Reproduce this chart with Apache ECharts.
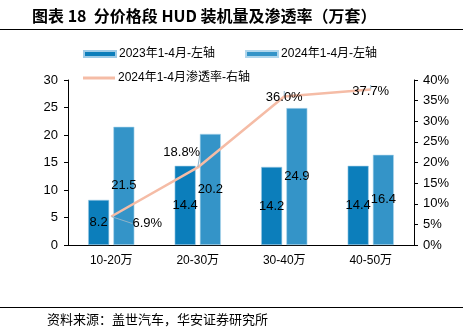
<!DOCTYPE html>
<html><head><meta charset="utf-8">
<script src="https://cdn.jsdelivr.net/npm/echarts@6/dist/echarts.min.js"></script>
<style>html,body{margin:0;padding:0;background:#fff}#c{width:473px;height:328px}</style>
</head><body><div id="c"></div>
<script>
const categories = ['10-20万', '20-30万', '30-40万', '40-50万'];
const vol2023 = [8.2, 14.4, 14.2, 14.4];
const vol2024 = [21.5, 20.2, 24.9, 16.4];
const rate2024 = [6.9, 18.8, 36.0, 37.7];
const leftTicks = [0, 30, 5];
const rightTicks = [0, 40, 5];
const names = ['2023年1-4月-左轴', '2024年1-4月-左轴', '2024年1-4月渗透率-右轴'];
const titleText = '图表 18  分价格段 HUD 装机量及渗透率（万套）';
const sourceText = '资料来源：盖世汽车，华安证券研究所';

const FONT = '"Liberation Sans", "Noto Sans CJK SC", sans-serif';
const chart = echarts.init(document.getElementById('c'), null, {renderer: 'canvas'});
const labelOffsets = [[36, 7], [-16, -15], [0, 1], [0, 2]];
chart.setOption({
  animation: false,
  textStyle: {fontFamily: FONT},
  graphic: [
    {type: 'text', left: 32, top: 8, style: {text: titleText, font: 'bold 16px "Noto Sans CJK SC", sans-serif', fill: '#000'}},
    {type: 'line', shape: {x1: 0, y1: 29.5, x2: 463, y2: 29.5}, style: {stroke: '#000', lineWidth: 1}},
    {type: 'line', shape: {x1: 0, y1: 307.5, x2: 463, y2: 307.5}, style: {stroke: '#000', lineWidth: 1}},
    {type: 'text', left: 47, top: 313, style: {text: sourceText, font: '13px "Noto Sans CJK SC", sans-serif', fill: '#000'}}
  ],
  legend: [
    {data: [names[0], names[1]], left: 78, top: 43, itemWidth: 32, itemHeight: 6, itemGap: 30, icon: 'rect',
     textStyle: {fontSize: 12, color: '#000', fontFamily: FONT, padding: [0,0,0,-2]}},
    {data: [names[2]], left: 78, top: 67, itemWidth: 32, itemHeight: 3, icon: 'rect',
     textStyle: {fontSize: 12, color: '#000', fontFamily: FONT, padding: [0,0,0,-2]}}
  ],
  grid: {left: 68, right: 59, top: 80, bottom: 83},
  xAxis: {
    type: 'category', data: categories,
    axisLine: {lineStyle: {color: '#000'}},
    axisTick: {inside: true, length: 4, lineStyle: {color: '#000'}},
    axisLabel: {fontSize: 12, color: '#000', margin: 10, fontFamily: FONT}
  },
  yAxis: [
    {type: 'value', min: leftTicks[0], max: leftTicks[1], interval: leftTicks[2],
     splitLine: {show: false},
     axisLine: {show: true, lineStyle: {color: '#000'}},
     axisTick: {show: true, length: 4, lineStyle: {color: '#000'}},
     axisLabel: {fontSize: 13, color: '#000', margin: 10, fontFamily: FONT}},
    {type: 'value', min: rightTicks[0], max: rightTicks[1], interval: rightTicks[2],
     splitLine: {show: false},
     axisLine: {show: true, lineStyle: {color: '#000'}},
     axisTick: {show: true, length: 4, lineStyle: {color: '#000'}},
     axisLabel: {fontSize: 13, color: '#000', margin: 9, formatter: '{value}%', fontFamily: FONT}}
  ],
  series: [
    {name: names[0], type: 'bar', data: vol2023, barWidth: 21, barGap: '20%',
     itemStyle: {color: '#0C7EBB', borderColor: '#9fcbe6', borderWidth: 0.6},
     label: {show: true, position: 'inside', color: '#000', fontSize: 13, fontFamily: FONT}},
    {name: names[1], type: 'bar', data: vol2024, barWidth: 21,
     itemStyle: {color: '#3494C8', borderColor: '#b0d6ec', borderWidth: 0.6},
     label: {show: true, position: 'inside', color: '#000', fontSize: 13, fontFamily: FONT}},
    {name: names[2], type: 'line', yAxisIndex: 1, data: rate2024,
     symbol: 'circle', symbolSize: 1, showSymbol: true,
     lineStyle: {color: '#F5BCA6', width: 2.5}, itemStyle: {color: '#F5BCA6'},
     label: {show: true, position: 'inside', color: '#000', fontSize: 13, fontFamily: FONT,
       formatter: p => p.value.toFixed(1) + '%'},
     labelLine: {show: true, lineStyle: {color: '#8fb3c9', width: 1}},
     labelLayout: p => ({dx: labelOffsets[p.dataIndex][0], dy: labelOffsets[p.dataIndex][1]}),
     z: 5}
  ]
});
</script></body></html>
